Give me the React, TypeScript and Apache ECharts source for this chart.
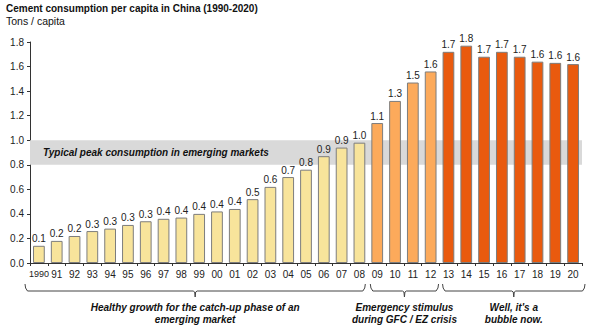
import React, { useEffect, useRef } from "react";
import * as echarts from "echarts";

const years = ["1990", "91", "92", "93", "94", "95", "96", "97", "98", "99", "00", "01", "02", "03", "04", "05", "06", "07", "08", "09", "10", "11", "12", "13", "14", "15", "16", "17", "18", "19", "20"];
const consumption = [0.14, 0.18, 0.22, 0.26, 0.28, 0.31, 0.34, 0.36, 0.37, 0.4, 0.42, 0.44, 0.52, 0.62, 0.7, 0.76, 0.87, 0.94, 0.98, 1.14, 1.32, 1.47, 1.56, 1.72, 1.77, 1.68, 1.72, 1.68, 1.64, 1.63, 1.62];

const phaseFirstIndex = [0, 19, 23];
const phaseLastIndex = [18, 22, 30];
const phaseLabels = [
  "Healthy growth for the catch-up phase of an\nemerging market",
  "Emergency stimulus\nduring GFC / EZ crisis",
  "Well, it's a\nbubble now.",
];
const phaseColors = ["#F8E49B", "#FCAA5B", "#E95A0E"];

const peakLow = 0.8;
const peakHigh = 1.0;
const peakLabel = "Typical peak consumption in emerging markets";

const titleText = "Cement consumption per capita in China (1990-2020)";
const unitText = "Tons / capita";

const FONT = "'Liberation Sans', Arial, sans-serif";

function phaseOf(i: number) {
  for (let p = 0; p < phaseFirstIndex.length; p++) {
    if (i >= phaseFirstIndex[p] && i <= phaseLastIndex[p]) return p;
  }
  return 0;
}

export default function App() {
  const ref = useRef<HTMLDivElement>(null);
  useEffect(() => {
    document.body.style.margin = "0";
    const chart = echarts.init(ref.current!, undefined, { renderer: "svg" });
    const option: any = {
      animation: false,
      backgroundColor: "#ffffff",
      textStyle: { fontFamily: FONT },
      grid: { left: 30, right: 18, top: 42, bottom: 68 },
      xAxis: {
        type: "category",
        data: years,
        axisLine: { lineStyle: { color: "#333", width: 1 } },
        axisTick: { show: true, length: 3, lineStyle: { color: "#333" } },
        axisLabel: {
          interval: 0,
          margin: 6,
          fontSize: 10,
          color: "#222",
          fontFamily: FONT,
          formatter: (v: string, i: number) => (i === 0 ? "{s|" + v + "}" : v),
          rich: { s: { fontSize: 9, fontFamily: FONT, color: "#222" } },
        },
      },
      yAxis: {
        type: "value",
        min: 0,
        max: 1.8,
        interval: 0.2,
        splitLine: { show: false },
        axisLine: { show: true, lineStyle: { color: "#333", width: 1 } },
        axisTick: { show: true, length: 3, lineStyle: { color: "#333" } },
        axisLabel: {
          margin: 6,
          fontSize: 10,
          color: "#222",
          fontFamily: FONT,
          formatter: (v: number) => v.toFixed(1),
        },
      },
      series: [
        {
          type: "bar",
          barCategoryGap: "34%",
          data: consumption.map((v, i) => ({
            value: v,
            itemStyle: { color: phaseColors[phaseOf(i)] },
          })),
          itemStyle: { borderColor: "#7d7d7d", borderWidth: 1 },
          label: {
            show: true,
            position: "top",
            distance: 2,
            fontSize: 10,
            color: "#222",
            fontFamily: FONT,
            formatter: (p: any) => Number(p.value).toFixed(1),
          },
          markArea: {
            silent: true,
            itemStyle: { color: "#D9D9D9" },
            label: {
              show: true,
              position: "insideLeft",
              distance: 13,
              fontSize: 10,
              fontStyle: "italic",
              fontWeight: "bold",
              color: "#111",
              fontFamily: FONT,
            },
            data: [[{ yAxis: peakLow, name: peakLabel }, { yAxis: peakHigh }]],
          },
        },
      ],
    };
    chart.setOption(option);

    const c0 = chart.convertToPixel({ xAxisIndex: 0 }, 0) as number;
    const c1 = chart.convertToPixel({ xAxisIndex: 0 }, 1) as number;
    const w = c1 - c0;
    const insets = [[-5, -3], [2, -1], [3, 3]];
    const yTop = 284;
    const yBase = 291;
    const yTip = 297;
    const graphics: any[] = [
      {
        type: "text",
        left: 6,
        top: 3,
        style: { text: titleText, font: `bold 10px ${FONT}`, fill: "#111" },
      },
      {
        type: "text",
        left: 6,
        top: 15,
        style: { text: unitText, font: `10.5px ${FONT}`, fill: "#111" },
      },
    ];
    phaseLabels.forEach((lab, p) => {
      const x0 = (chart.convertToPixel({ xAxisIndex: 0 }, phaseFirstIndex[p]) as number) - w / 2 + insets[p][0];
      const x1 = (chart.convertToPixel({ xAxisIndex: 0 }, phaseLastIndex[p]) as number) + w / 2 + insets[p][1];
      const xc = (x0 + x1) / 2;
      graphics.push({
        type: "polyline",
        shape: {
          points: [
            [x0, yTop], [x0 + 0.6, yBase - 3], [x0 + 2.5, yBase],
            [xc - 2, yBase], [xc - 0.5, yBase + 1], [xc, yTip],
            [xc + 0.5, yBase + 1], [xc + 2, yBase],
            [x1 - 2.5, yBase], [x1 - 0.6, yBase - 3], [x1, yTop],
          ],
        },
        style: { stroke: "#444", lineWidth: 1, fill: null },
      });
      graphics.push({
        type: "text",
        x: xc,
        y: 301,
        style: {
          text: lab,
          font: `italic bold 10px ${FONT}`,
          fill: "#111",
          align: "center",
          verticalAlign: "top",
          lineHeight: 12,
        },
      });
    });
    chart.setOption({ graphic: graphics });
    return () => chart.dispose();
  }, []);
  return <div ref={ref} style={{ width: 600, height: 331 }} />;
}
